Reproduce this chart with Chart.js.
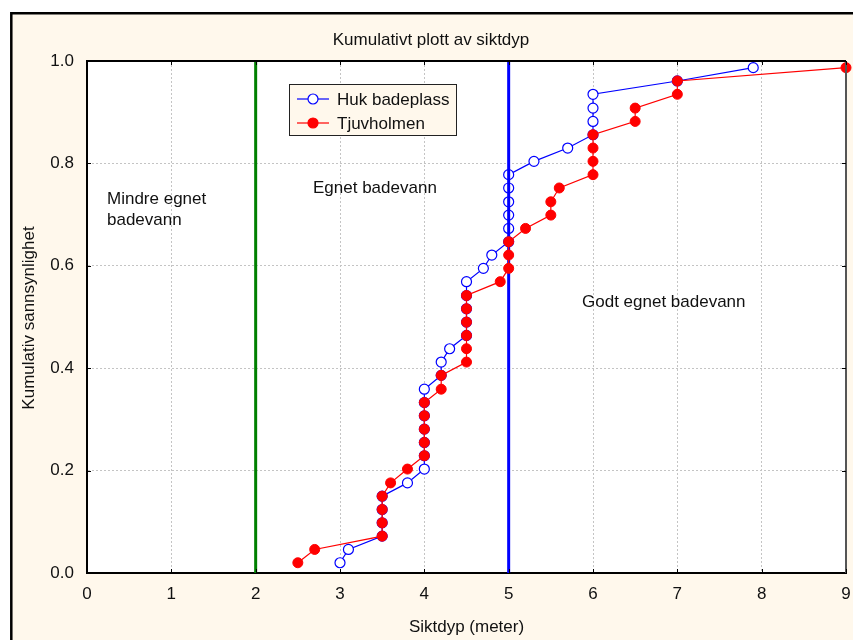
<!DOCTYPE html>
<html>
<head>
<meta charset="utf-8">
<script src="https://cdn.jsdelivr.net/npm/chart.js@4/dist/chart.umd.min.js"></script>
<style>
  html, body { margin: 0; padding: 0; background: #fff; }
  #plot { display: block; }
</style>
</head>
<body>
<canvas id="plot" width="853" height="640" style="width:853px;height:640px"></canvas>
<script>
// cumulative probability for each ranked observation (same for both sites)
var cumProb = [0.020, 0.046, 0.072, 0.098, 0.124, 0.150, 0.176, 0.203, 0.229, 0.255,
               0.281, 0.307, 0.333, 0.359, 0.386, 0.412, 0.438, 0.464, 0.490, 0.516,
               0.542, 0.569, 0.595, 0.621, 0.647, 0.673, 0.699, 0.725, 0.752, 0.778,
               0.804, 0.830, 0.856, 0.882, 0.908, 0.935, 0.961, 0.987];

// sorted secchi depths (meter)
var hukDepth = [3.0, 3.1, 3.5, 3.5, 3.5, 3.5, 3.8, 4.0, 4.0, 4.0, 4.0, 4.0, 4.0, 4.0,
                4.2, 4.2, 4.3, 4.5, 4.5, 4.5, 4.5, 4.5, 4.7, 4.8, 5.0, 5.0, 5.0, 5.0,
                5.0, 5.0, 5.3, 5.7, 6.0, 6.0, 6.0, 6.0, 7.0, 7.9];
var tjuvDepth = [2.5, 2.7, 3.5, 3.5, 3.5, 3.5, 3.6, 3.8, 4.0, 4.0, 4.0, 4.0, 4.0, 4.2,
                 4.2, 4.5, 4.5, 4.5, 4.5, 4.5, 4.5, 4.9, 5.0, 5.0, 5.0, 5.2, 5.5, 5.5,
                 5.6, 6.0, 6.0, 6.0, 6.0, 6.5, 6.5, 7.0, 7.0, 9.0];

var seriesNames = ['Huk badeplass', 'Tjuvholmen'];

// limits between the quality classes
var limitDepth = [2, 5];
var limitColor = ['#008000', '#0000ff'];

var xTicks = [0, 1, 2, 3, 4, 5, 6, 7, 8, 9];
var yTicks = [0, 0.2, 0.4, 0.6, 0.8, 1.0];

var FONT = '17px "Liberation Sans", Arial, sans-serif';
var CREAM = '#fff8ec';

function toPoints(xs, ys) {
    var pts = [];
    for (var i = 0; i < xs.length; i++) {
        pts.push({x: xs[i], y: ys[i]});
    }
    return pts;
}

var datasets = [
    {
        label: seriesNames[0],
        data: toPoints(hukDepth, cumProb),
        showLine: true,
        borderColor: '#0000ff',
        borderWidth: 1.2,
        pointRadius: 5,
        pointBackgroundColor: '#ffffff',
        pointBorderColor: '#0000ff',
        pointBorderWidth: 1.2,
        clip: false,
        order: 3
    },
    {
        label: seriesNames[1],
        data: toPoints(tjuvDepth, cumProb),
        showLine: true,
        borderColor: '#ff0000',
        borderWidth: 1.2,
        pointRadius: 5,
        pointBackgroundColor: '#ff0000',
        pointBorderColor: '#ff0000',
        pointBorderWidth: 1,
        clip: false,
        order: 1
    }
];

for (var k = 0; k < limitDepth.length; k++) {
    datasets.push({
        label: 'limit' + k,
        data: [{x: limitDepth[k], y: 0}, {x: limitDepth[k], y: 1}],
        showLine: true,
        borderColor: limitColor[k],
        borderWidth: 3,
        pointRadius: 0,
        order: 2
    });
}

// background, frame, inner ticks, texts and legend
var decorPlugin = {
    id: 'decor',
    beforeDraw: function (chart) {
        var c = chart.ctx, a = chart.chartArea;
        c.save();
        c.fillStyle = '#ffffff';
        c.fillRect(0, 0, chart.width, chart.height);
        c.fillStyle = CREAM;
        c.fillRect(11, 13, chart.width - 11, chart.height - 13);
        c.strokeStyle = '#000';
        c.lineWidth = 2.5;
        c.beginPath();
        c.moveTo(11.3, chart.height);
        c.lineTo(11.3, 13.3);
        c.lineTo(chart.width, 13.3);
        c.stroke();
        c.fillStyle = '#ffffff';
        c.fillRect(a.left, a.top, a.right - a.left, a.bottom - a.top);
        c.restore();
    },
    afterDraw: function (chart) {
        var c = chart.ctx, a = chart.chartArea;
        var xs = chart.scales.x, ys = chart.scales.y;
        c.save();
        // top and right borders
        c.lineWidth = 2;
        c.strokeStyle = '#000';
        c.beginPath();
        c.moveTo(a.left, a.top);
        c.lineTo(a.right, a.top);
        c.stroke();
        c.strokeStyle = '#555';
        c.beginPath();
        c.moveTo(a.right, a.top);
        c.lineTo(a.right, a.bottom);
        c.stroke();

        // inward tick marks
        c.strokeStyle = '#000';
        c.lineWidth = 1;
        c.beginPath();
        xTicks.forEach(function (v) {
            var px = Math.round(xs.getPixelForValue(v)) + 0.5;
            c.moveTo(px, a.bottom); c.lineTo(px, a.bottom - 4);
            c.moveTo(px, a.top); c.lineTo(px, a.top + 4);
        });
        yTicks.forEach(function (v) {
            var py = Math.round(ys.getPixelForValue(v)) + 0.5;
            c.moveTo(a.left, py); c.lineTo(a.left + 4, py);
            c.moveTo(a.right, py); c.lineTo(a.right - 4, py);
        });
        c.stroke();

        // titles
        c.fillStyle = '#111';
        c.font = FONT;
        c.textAlign = 'center';
        c.textBaseline = 'alphabetic';
        c.fillText('Kumulativt plott av siktdyp', 431, 45);
        c.textBaseline = 'middle';
        c.fillText('Siktdyp (meter)', (a.left + a.right) / 2, 627);
        c.save();
        c.translate(29, 318);
        c.rotate(-Math.PI / 2);
        c.fillText('Kumulativ sannsynlighet', 0, 0);
        c.restore();

        // class labels
        c.textAlign = 'left';
        c.textBaseline = 'alphabetic';
        c.fillText('Mindre egnet', 107, 204);
        c.fillText('badevann', 107, 225);
        c.fillText('Egnet badevann', 313, 193);
        c.fillText('Godt egnet badevann', 582, 307);

        // legend box
        c.fillStyle = CREAM;
        c.fillRect(289, 84, 167, 51);
        c.strokeStyle = '#222';
        c.lineWidth = 1;
        c.strokeRect(289.5, 84.5, 167, 51);
        var rows = [99, 123];
        for (var i = 0; i < 2; i++) {
            var ds = chart.data.datasets[i];
            c.strokeStyle = ds.borderColor;
            c.lineWidth = 1.2;
            c.beginPath();
            c.moveTo(297, rows[i]);
            c.lineTo(329, rows[i]);
            c.stroke();
            c.beginPath();
            c.arc(313, rows[i], 5, 0, Math.PI * 2);
            c.fillStyle = ds.pointBackgroundColor;
            c.fill();
            c.strokeStyle = ds.pointBorderColor;
            c.stroke();
            c.fillStyle = '#111';
            c.fillText(ds.label, 337, rows[i] + 5.5);
        }
        c.restore();
    }
};

new Chart(document.getElementById('plot'), {
    type: 'scatter',
    data: {datasets: datasets},
    plugins: [decorPlugin],
    options: {
        responsive: false,
        animation: false,
        devicePixelRatio: 1,
        layout: {padding: {top: 61, right: 7, left: 0, bottom: 0}},
        plugins: {
            legend: {display: false},
            title: {display: false},
            tooltip: {enabled: false}
        },
        scales: {
            x: {
                type: 'linear',
                min: 0,
                max: 9,
                afterFit: function (s) {
                    s.height = 67;
                    s.paddingLeft = 0;
                    s.paddingRight = 0;
                },
                afterBuildTicks: function (s) {
                    s.ticks = xTicks.map(function (v) { return {value: v}; });
                },
                ticks: {
                    padding: 11,
                    color: '#111',
                    font: {family: '"Liberation Sans", Arial, sans-serif', size: 17},
                    maxRotation: 0
                },
                grid: {
                    color: '#c4c4c4',
                    lineWidth: 1,
                    drawTicks: false
                },
                border: {display: true, color: '#000', width: 2, dash: [2, 2]}
            },
            y: {
                type: 'linear',
                min: 0,
                max: 1,
                afterFit: function (s) {
                    s.width = 87;
                    s.paddingTop = 0;
                    s.paddingBottom = 0;
                },
                afterBuildTicks: function (s) {
                    s.ticks = yTicks.map(function (v) { return {value: v}; });
                },
                ticks: {
                    padding: 13,
                    color: '#111',
                    font: {family: '"Liberation Sans", Arial, sans-serif', size: 17},
                    callback: function (v) { return Number(v).toFixed(1); }
                },
                grid: {
                    color: '#c4c4c4',
                    lineWidth: 1,
                    drawTicks: false
                },
                border: {display: true, color: '#000', width: 2, dash: [2, 2]}
            }
        }
    }
});
</script>
</body>
</html>
